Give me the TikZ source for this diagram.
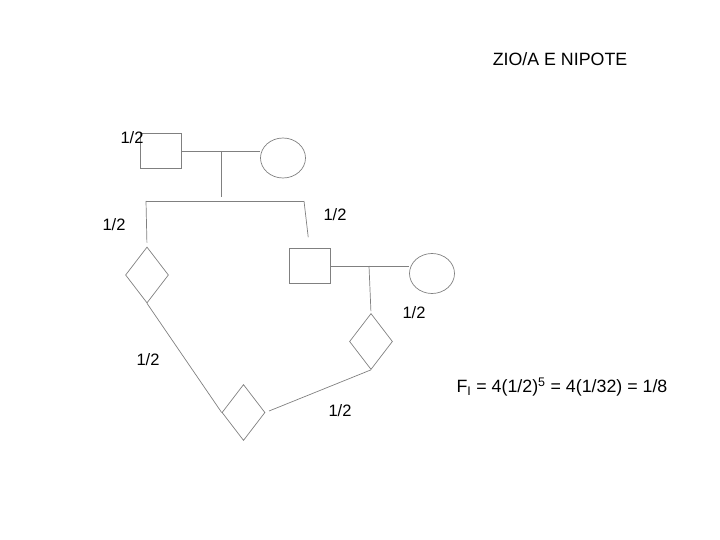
\documentclass[tikz,border=0pt]{standalone}
\usepackage{fontspec}
\setmainfont{Liberation Sans}
\usetikzlibrary{shapes.geometric, positioning}

\begin{document}
\begin{tikzpicture}[x=1pt, y=-1pt, line width=0.7pt,
        every node/.style={font=\fontsize{16.5}{19}\selectfont},
        male/.style={draw=gray, rectangle, minimum width=41pt, minimum height=35pt, inner sep=0pt},
        female/.style={draw=gray, ellipse, minimum width=45pt, minimum height=40pt, inner sep=0pt},
        unknown/.style={draw=gray, diamond, minimum width=43pt, minimum height=56pt, inner sep=0pt},
        link/.style={draw=gray},
        big/.style={font=\fontsize{17.8}{21}\selectfont}]

        \useasboundingbox (0,0) rectangle (720,540);

        % grandparents
        \node[male] (gf) at (160.5,150.5) {};
        \node[female] (gm) at (283,158) {};

        % uncle and his wife
        \node[male] (f2) at (309.5,266) {};
        \node[female] (m2) at (432,273.5) {};

        % sibling, child and inbred
        \node[unknown] (c1) at (147,275) {};
        \node[unknown] (c2) at (371,341.5) {};
        \node[unknown] (ind) at (243.5,412.5) {};

        \coordinate (u1) at (221,151);
        \coordinate (s1) at (221,201);
        \coordinate (sl) at (146,201);
        \coordinate (sr) at (304,201);
        \coordinate (u2) at (369,266);

        \path[link]
        (gf.east |- u1) edge (gm.west |- u1)
        (u1) edge [shorten >=4pt] (s1)
        (sl) edge (sr)
        (sl) edge [shorten >=4pt] (c1.north)
        (sr) edge [shorten >=11pt] (f2.north)
        (f2.east) edge (m2.west |- f2.east)
        (u2) edge [shorten >=2pt] (c2.north)
        (c1.south) edge (ind.west)
        (ind.east) edge [shorten <=4pt] (c2.south);

        % path coefficients
        \node at (132,137.5) {1/2};
        \node at (114,225) {1/2};
        \node at (335,215) {1/2};
        \node at (414,313) {1/2};
        \node at (148,360) {1/2};
        \node at (340,411) {1/2};

        \node[big] at (560,59) {ZIO/A E NIPOTE};
        \node[big] at (562,387) {F\textsubscript{I} = 4(1/2)\textsuperscript{5} = 4(1/32) = 1/8};

    \end{tikzpicture}
\end{document}
